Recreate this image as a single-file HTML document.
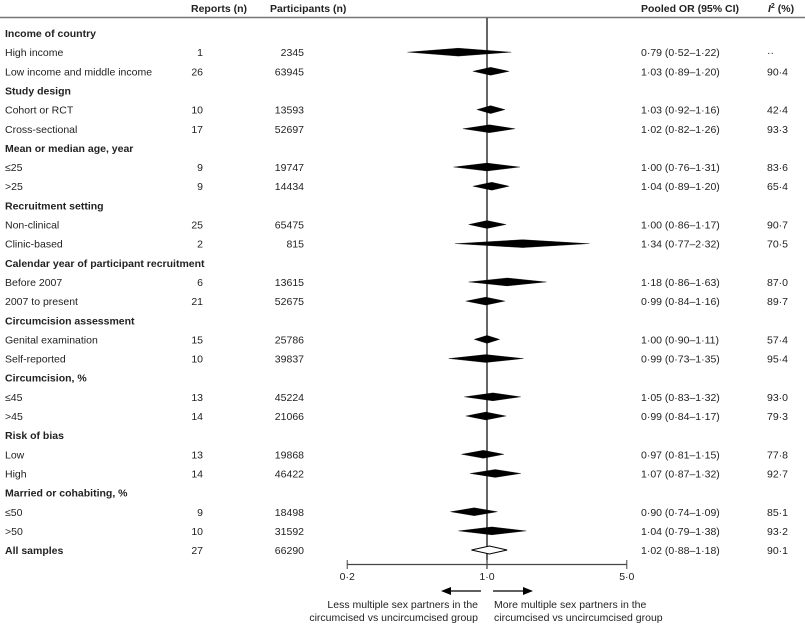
<!DOCTYPE html>
<html><head><meta charset="utf-8"><style>
body{margin:0;background:#fff;}
svg{display:block;font-family:"Liberation Sans",sans-serif;font-size:10.5px;fill:#222;}
.b{font-weight:bold;}
</style></head><body>
<svg id="c" width="805" height="626" xmlns="http://www.w3.org/2000/svg"></svg>
<script>
const labels=["Income of country","High income","Low income and middle income","Study design","Cohort or RCT","Cross-sectional","Mean or median age, year","≤25",">25","Recruitment setting","Non-clinical","Clinic-based","Calendar year of participant recruitment","Before 2007","2007 to present","Circumcision assessment","Genital examination","Self-reported","Circumcision, %","≤45",">45","Risk of bias","Low","High","Married or cohabiting, %","≤50",">50","All samples"];
const isHeader=[1,0,0,1,0,0,1,0,0,1,0,0,1,0,0,1,0,0,1,0,0,1,0,0,1,0,0,1];
const reports=["","1","26","","10","17","","9","9","","25","2","","6","21","","15","10","","13","14","","13","14","","9","10","27"];
const participants=["","2345","63945","","13593","52697","","19747","14434","","65475","815","","13615","52675","","25786","39837","","45224","21066","","19868","46422","","18498","31592","66290"];
const orVal=[null,0.79,1.03,null,1.03,1.02,null,1.00,1.04,null,1.00,1.34,null,1.18,0.99,null,1.00,0.99,null,1.05,0.99,null,0.97,1.07,null,0.90,1.04,1.02];
const ciLo=[null,0.52,0.89,null,0.92,0.82,null,0.76,0.89,null,0.86,0.77,null,0.86,0.84,null,0.90,0.73,null,0.83,0.84,null,0.81,0.87,null,0.74,0.79,0.88];
const ciHi=[null,1.22,1.20,null,1.16,1.26,null,1.31,1.20,null,1.17,2.32,null,1.63,1.16,null,1.11,1.35,null,1.32,1.17,null,1.15,1.32,null,1.09,1.38,1.18];
const i2=["","··","90·4","","42·4","93·3","","83·6","65·4","","90·7","70·5","","87·0","89·7","","57·4","95·4","","93·0","79·3","","77·8","92·7","","85·1","93·2","90·1"];
const axisTicks=[0.2,1.0,5.0];
const axisTickLabels=["0·2","1·0","5·0"];

const svg=document.getElementById('c');
const NS="http://www.w3.org/2000/svg";
function mk(t,a,txt){const e=document.createElementNS(NS,t);for(const k in a)e.setAttribute(k,a[k]);if(txt!==undefined)e.textContent=txt;svg.appendChild(e);return e;}
const X1=487, K=200;
const ax=v=>X1+K*Math.log10(v);
const dk=280; const dx=v=>X1+dk*Math.log10(v);
const rowY=i=>33+i*19.15;
const fmt=v=>v.toFixed(2).replace('.','·');

let e;
e=mk('text',{x:191,y:12,class:'b'},'Reports (n)');


e=mk('text',{x:270,y:12,class:'b'},'Participants (n)');


e=mk('text',{x:641,y:12,class:'b'},'Pooled OR (95% CI)');


e=mk('text',{x:768,y:12,class:'b'});
e.innerHTML='<tspan font-style="italic">I</tspan><tspan font-size="7" dy="-4">2</tspan><tspan dy="4"> (%)</tspan>';


e=mk('line',{x1:0,x2:805,y1:17.5,y2:17.5,stroke:'#777','stroke-width':1.5});


e=mk('line',{x1:X1,x2:X1,y1:18,y2:569,stroke:'#000','stroke-width':1.2});



labels.forEach((l,i)=>{
  const y=rowY(i)+4;
  const last=i===labels.length-1;
  e=mk('text',{x:5,y:y,class:(isHeader[i]?'b':'')},l);
  
  
  if(reports[i]){
    e=mk('text',{x:203,y:y,'text-anchor':'end'},reports[i]);
    
    
    e=mk('text',{x:304,y:y,'text-anchor':'end'},participants[i]);
    
    
  }
  if(orVal[i]!==null){
    const yc=rowY(i);
    const pts=[[dx(ciLo[i]),yc],[dx(orVal[i]),yc-4],[dx(ciHi[i]),yc],[dx(orVal[i]),yc+4]].map(p=>p.join(',')).join(' ');
    e=mk('polygon',{points:pts,fill:last?'#fff':'#000',stroke:'#000','stroke-width':last?1:0.3});
    
    
    e=mk('text',{x:641,y:y},fmt(orVal[i])+' ('+fmt(ciLo[i])+'–'+fmt(ciHi[i])+')');
    
    
    e=mk('text',{x:767,y:y},i2[i]);
    
    
  }
});

e=mk('line',{x1:ax(axisTicks[0]),x2:ax(axisTicks[2]),y1:564.5,y2:564.5,stroke:'#444','stroke-width':1.2});


axisTicks.forEach((t,j)=>{
  e=mk('line',{x1:ax(t),x2:ax(t),y1:560,y2:569,stroke:'#444','stroke-width':1});
  
  
  e=mk('text',{x:ax(t),y:580,'text-anchor':'middle'},axisTickLabels[j]);
  
  
});
e=mk('line',{x1:481,x2:450,y1:591,y2:591,stroke:'#000','stroke-width':1.3});


e=mk('polygon',{points:'441,591 451,587 451,595',fill:'#000'});


e=mk('line',{x1:493,x2:524,y1:591,y2:591,stroke:'#000','stroke-width':1.3});


e=mk('polygon',{points:'533,591 523,587 523,595',fill:'#000'});


e=mk('text',{x:478,y:608,'text-anchor':'end'},'Less multiple sex partners in the');


e=mk('text',{x:478,y:621,'text-anchor':'end'},'circumcised vs uncircumcised group');


e=mk('text',{x:494,y:608},'More multiple sex partners in the');


e=mk('text',{x:494,y:621},'circumcised vs uncircumcised group');


</script>
</body></html>
